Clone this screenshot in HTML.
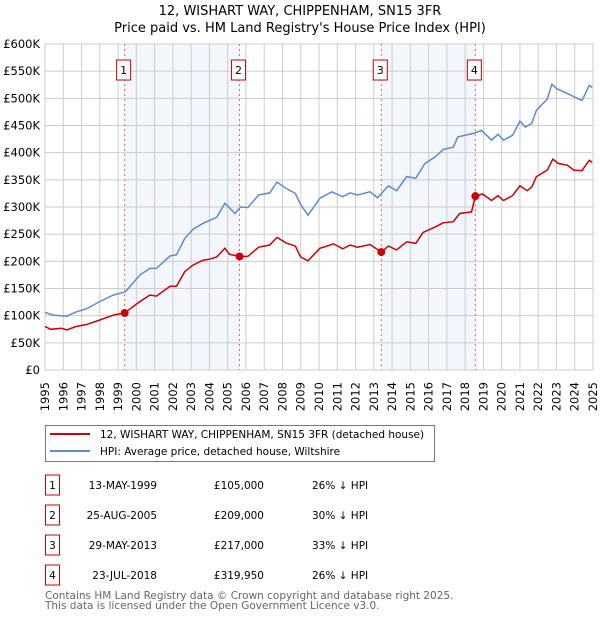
<!DOCTYPE html>
<html><head><meta charset="utf-8">
<style>
body{margin:0;background:#fff;width:600px;height:620px;overflow:hidden;font-family:"DejaVu Sans","Liberation Sans",sans-serif;}
svg text{font-family:"DejaVu Sans","Liberation Sans",sans-serif;}
</style></head><body>
<svg id="chart" width="600" height="620" xmlns="http://www.w3.org/2000/svg">
<text x="300" y="15" text-anchor="middle" font-size="13">12, WISHART WAY, CHIPPENHAM, SN15 3FR</text>
<text x="300" y="32" text-anchor="middle" font-size="13">Price paid vs. HM Land Registry's House Price Index (HPI)</text>
<g id="plot"></g>
<g>
<rect x="45.5" y="425.5" width="389" height="36" fill="#fff" stroke="#777"/>
<line x1="50" y1="434" x2="90" y2="434" stroke="#cc0000" stroke-width="2"/>
<text x="100" y="438" font-size="10.5">12, WISHART WAY, CHIPPENHAM, SN15 3FR (detached house)</text>
<line x1="50" y1="451" x2="90" y2="451" stroke="#5b8bd0" stroke-width="2"/>
<text x="100" y="455" font-size="10.5">HPI: Average price, detached house, Wiltshire</text>
</g>
<g id="table" font-size="10.5"></g>
<text x="45" y="599" font-size="10.5" fill="#666">Contains HM Land Registry data © Crown copyright and database right 2025.</text>
<text x="45" y="609" font-size="10.5" fill="#666">This data is licensed under the Open Government Licence v3.0.</text>
</svg>
<script>
const yTicks=[0,50,100,150,200,250,300,350,400,450,500,550,600];
const years=[1995,1996,1997,1998,1999,2000,2001,2002,2003,2004,2005,2006,2007,2008,2009,2010,2011,2012,2013,2014,2015,2016,2017,2018,2019,2020,2021,2022,2023,2024,2025];
const hpiT=[1995.0,1995.45,1996.2,1996.7,1997.3,1998.0,1998.75,1999.4,2000.2,2000.75,2001.1,2001.85,2002.2,2002.65,2003.1,2003.65,2004.4,2004.85,2005.4,2005.7,2006.1,2006.7,2007.3,2007.7,2008.2,2008.7,2009.0,2009.4,2010.05,2010.7,2011.3,2011.7,2012.1,2012.8,2013.2,2013.8,2014.25,2014.8,2015.3,2015.8,2016.35,2016.8,2017.35,2017.6,2018.5,2018.9,2019.45,2019.8,2020.1,2020.6,2021.0,2021.3,2021.65,2021.9,2022.5,2022.75,2023.0,2023.6,2023.95,2024.4,2024.8,2024.95];
const hpiV=[106,101,99,107,113,126,138,144,175,187,187,210,212,242,259,270,281,307,288,300,299,322,326,346,334,325,304,285,316,328,319,326,322,328,317,339,330,356,353,380,392,406,410,429,436,441,423,434,423,432,458,447,454,478,499,526,518,509,503,496,524,520];
const propT=[1995.0,1995.3,1995.9,1996.2,1996.7,1997.3,1998.0,1998.75,1999.36,2000.2,2000.75,2001.1,2001.85,2002.2,2002.65,2003.1,2003.65,2004.0,2004.4,2004.85,2005.1,2005.65,2006.1,2006.7,2007.3,2007.7,2008.2,2008.7,2009.0,2009.4,2010.05,2010.8,2011.3,2011.7,2012.1,2012.8,2013.41,2013.8,2014.25,2014.8,2015.3,2015.7,2016.35,2016.8,2017.35,2017.7,2018.35,2018.56,2018.95,2019.45,2019.8,2020.1,2020.6,2021.0,2021.4,2021.65,2021.9,2022.5,2022.8,2023.1,2023.6,2023.95,2024.4,2024.8,2024.95];
const propV=[80,75,77,74,80,84,92,101,105,126,138,136,154,154,181,193,202,204,208,224,213,209,209,226,230,244,234,228,208,201,224,232,223,230,226,231,217,228,221,236,233,253,263,271,273,288,291,320,324,312,321,312,321,339,330,337,356,368,388,380,377,368,367,386,382];
const saleT=[1999.36,2005.65,2013.41,2018.56];
const saleV=[105,209,217,319.95];
const saleLabels=["1","2","3","4"];
const saleDates=["13-MAY-1999","25-AUG-2005","29-MAY-2013","23-JUL-2018"];
const salePrices=["£105,000","£209,000","£217,000","£319,950"];
const saleHpi=["26% ↓ HPI","30% ↓ HPI","33% ↓ HPI","26% ↓ HPI"];
const X0=45,X1=593,Y0=370,Y1=44;
const x=t=>X0+(t-1995)/30*(X1-X0);
const y=v=>Y0-v/600*(Y0-Y1);
const NS="http://www.w3.org/2000/svg";
const plot=document.getElementById('plot');
function mk(tag,attrs,parent){const e=document.createElementNS(NS,tag);for(const k in attrs)e.setAttribute(k,attrs[k]);(parent||plot).appendChild(e);return e;}
for(let i=0;i<saleT.length;i+=2){
 const r=mk('rect',{x:x(saleT[i]),y:Y1,width:x(saleT[i+1])-x(saleT[i]),height:Y0-Y1,fill:'#eef3fc',opacity:0.7});
 
 
}
years.forEach(yr=>{const l=mk('line',{x1:x(yr),x2:x(yr),y1:Y1,y2:Y0,stroke:'#ccc','stroke-width':1});
 
 
 const t=mk('text',{x:0,y:0,'font-size':11.5,'text-anchor':'end',transform:`translate(${x(yr)+4},${Y0+12}) rotate(-90)`});
 
 
 t.textContent=yr;});
yTicks.forEach(v=>{const l=mk('line',{x1:X0,x2:X1,y1:y(v),y2:y(v),stroke:'#ccc','stroke-width':1});
 
 
 const t=mk('text',{x:X0-5,y:y(v)+4,'font-size':11.5,'text-anchor':'end'});
 
 
 t.textContent=v===0?'£0':'£'+v+'K';});
const ax=mk('rect',{x:X0,y:Y1,width:X1-X0,height:Y0-Y1,fill:'none',stroke:'#ccc'});


saleT.forEach((t,i)=>{
 const l=mk('line',{x1:x(t),x2:x(t),y1:Y1,y2:Y0,stroke:'#f06060','stroke-dasharray':'2,3','stroke-width':1});
 
 
 const b=mk('rect',{x:x(t)-8,y:60,width:14,height:20,fill:'#fff',stroke:'#cc0000'});
 
 
 const tx=mk('text',{x:x(t)-1,y:74,'font-size':11,'text-anchor':'middle'});
 
 
 tx.textContent=saleLabels[i];
});
const path=(T,V)=>T.map((t,i)=>(i?'L':'M')+x(t).toFixed(1)+','+y(V[i]).toFixed(1)).join('');
const hp=mk('path',{d:path(hpiT,hpiV),fill:'none',stroke:'#5b8bd0','stroke-width':1.5});


const pp=mk('path',{d:path(propT,propV),fill:'none',stroke:'#cc0000','stroke-width':1.5});


saleT.forEach((t,i)=>{const c=mk('circle',{cx:x(t),cy:y(saleV[i]),r:4,fill:'#cc0000'});
 
 });
const tb=document.getElementById('table');
saleT.forEach((t,i)=>{
 const cy=485+i*30;
 const b=mk('rect',{x:45.5,y:cy-10,width:14,height:20,fill:'#fff',stroke:'#cc0000'},tb);
 
 
 const n=mk('text',{x:52.5,y:cy+4,'text-anchor':'middle'},tb);
 
 
 n.textContent=saleLabels[i];
 const d=mk('text',{x:157,y:cy+4,'text-anchor':'end'},tb);
 
 
 d.textContent=saleDates[i];
 const p=mk('text',{x:264,y:cy+4,'text-anchor':'end'},tb);
 
 
 p.textContent=salePrices[i];
 const h=mk('text',{x:312,y:cy+4},tb);
 
 
 h.textContent=saleHpi[i];
});
</script>
</body></html>
